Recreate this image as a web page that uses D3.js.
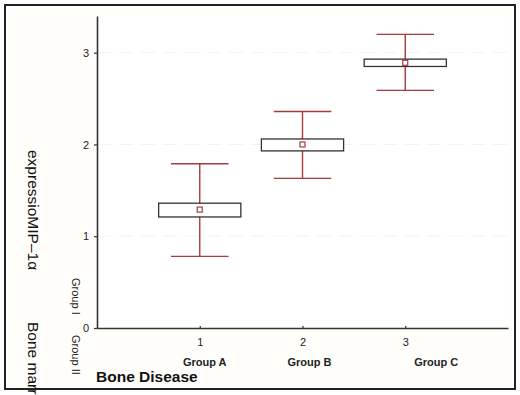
<!DOCTYPE html>
<html>
<head>
<meta charset="utf-8">
<script src="https://cdn.jsdelivr.net/npm/d3@7"></script>
<style>
  body { margin: 0; background: #fff; }
  text { font-family: "Liberation Sans", Arial, sans-serif; }
</style>
</head>
<body>
<svg id="chart"></svg>
<script>
var groups = ['Group A', 'Group B', 'Group C'];
var xPos = [1, 2, 3];
var means = [1.29, 2.00, 2.89];
var boxLow = [1.21, 1.93, 2.85];
var boxHigh = [1.36, 2.06, 2.93];
var whiskLow = [0.78, 1.63, 2.59];
var whiskHigh = [1.79, 2.36, 3.20];
var yTicks = [0, 1, 2, 3];
var xTicks = [1, 2, 3];

var W = 520, H = 395;
var margin = { top: 16, left: 97, right: 12, bottom: 67 };
var width = W - margin.left - margin.right;
var height = H - margin.top - margin.bottom;

var svg = d3.select('#chart')
    .attr('width', W)
    .attr('height', H);

// outer frame
svg.append('rect')
    .attr('x', 5).attr('y', 5)
    .attr('width', 510).attr('height', 384)
    .attr('fill', '#fffefa')
    .attr('stroke', '#222')
    .attr('stroke-width', 2);

var g = svg.append('g')
    .attr('transform', 'translate(' + margin.left + ',' + margin.top + ')');

var xScale = d3.scaleLinear().domain([0, 4]).range([0, width]);
var yScale = d3.scaleLinear().domain([0, 3.4]).range([height, 0]);

g.append('rect')
    .attr('width', width).attr('height', height)
    .attr('fill', '#fff');

// faint grid
g.selectAll('.grid')
    .data(yTicks.slice(1))
    .enter().append('line')
    .attr('class', 'grid')
    .attr('x1', 0).attr('x2', width)
    .attr('y1', function (d) { return yScale(d); })
    .attr('y2', function (d) { return yScale(d); })
    .attr('stroke', '#f3f3f3')
    .attr('stroke-dasharray', '14,8');

var yAxis = d3.axisLeft(yScale).tickValues(yTicks).tickSizeInner(3).tickSizeOuter(0).tickPadding(5)
    .tickFormat(d3.format('d'));
var xAxis = d3.axisBottom(xScale).tickValues(xTicks).tickSizeInner(-2).tickSizeOuter(0).tickPadding(10)
    .tickFormat(d3.format('d'));

var ya = g.append('g').call(yAxis);
var xa = g.append('g').attr('transform', 'translate(0,' + height + ')').call(xAxis);

[ya, xa].forEach(function (a) {
    a.select('.domain').attr('stroke', '#333').attr('stroke-width', 1.6);
    a.selectAll('.tick line').attr('stroke', '#333').attr('stroke-width', 1.2);
    a.selectAll('.tick text').attr('font-size', 11).attr('fill', '#222')
        .attr('font-family', '"Liberation Sans", Arial, sans-serif');
});

// group labels under x ticks
var labelShift = [5, 7, 31];
g.selectAll('.glabel')
    .data(groups)
    .enter().append('text')
    .attr('class', 'glabel')
    .attr('x', function (d, i) { return xScale(xPos[i]) + labelShift[i]; })
    .attr('y', height + 38)
    .attr('text-anchor', 'middle')
    .attr('font-size', 11)
    .attr('font-weight', 'bold')
    .attr('fill', '#222')
    .text(function (d) { return d; });

// whiskers
var boxHalf = xScale(0.4) - xScale(0);
var capHalf = xScale(0.28) - xScale(0);
var red = '#a83a3e';

var grp = g.selectAll('.grp')
    .data(groups)
    .enter().append('g')
    .attr('class', 'grp');

grp.append('line')
    .attr('x1', function (d, i) { return xScale(xPos[i]); })
    .attr('x2', function (d, i) { return xScale(xPos[i]); })
    .attr('y1', function (d, i) { return yScale(whiskLow[i]); })
    .attr('y2', function (d, i) { return yScale(whiskHigh[i]); })
    .attr('stroke', red).attr('stroke-width', 1.4);

[whiskLow, whiskHigh].forEach(function (arr) {
    grp.append('line')
        .attr('x1', function (d, i) { return xScale(xPos[i]) - capHalf; })
        .attr('x2', function (d, i) { return xScale(xPos[i]) + capHalf; })
        .attr('y1', function (d, i) { return yScale(arr[i]); })
        .attr('y2', function (d, i) { return yScale(arr[i]); })
        .attr('stroke', red).attr('stroke-width', 1.4);
});

grp.append('rect')
    .attr('x', function (d, i) { return xScale(xPos[i]) - boxHalf; })
    .attr('y', function (d, i) { return yScale(boxHigh[i]); })
    .attr('width', boxHalf * 2)
    .attr('height', function (d, i) { return yScale(boxLow[i]) - yScale(boxHigh[i]); })
    .attr('fill', '#fff')
    .attr('stroke', '#333')
    .attr('stroke-width', 1.3);

grp.append('rect')
    .attr('x', function (d, i) { return xScale(xPos[i]) - 2.5; })
    .attr('y', function (d, i) { return yScale(means[i]) - 2.5; })
    .attr('width', 5).attr('height', 5)
    .attr('fill', '#fff')
    .attr('stroke', red).attr('stroke-width', 1.2);

// x title
svg.append('text')
    .attr('x', 96)
    .attr('y', 382)
    .attr('font-size', 15.5)
    .attr('font-weight', 'bold')
    .attr('fill', '#111')
    .text('Bone Disease');

// rotated y titles
svg.append('text')
    .attr('transform', 'translate(28,150) rotate(90)')
    .attr('font-size', 15.5)
    .attr('fill', '#111')
    .text('expressioMIP\u20131\u03b1');
svg.append('text')
    .attr('transform', 'translate(28,322) rotate(90)')
    .attr('font-size', 15.5)
    .attr('fill', '#111')
    .text('Bone marr');

svg.append('text')
    .attr('transform', 'translate(72,278) rotate(90)')
    .attr('font-size', 11)
    .attr('fill', '#222')
    .text('Group I');
svg.append('text')
    .attr('transform', 'translate(72,335) rotate(90)')
    .attr('font-size', 11)
    .attr('fill', '#222')
    .text('Group II');
</script>
</body>
</html>
